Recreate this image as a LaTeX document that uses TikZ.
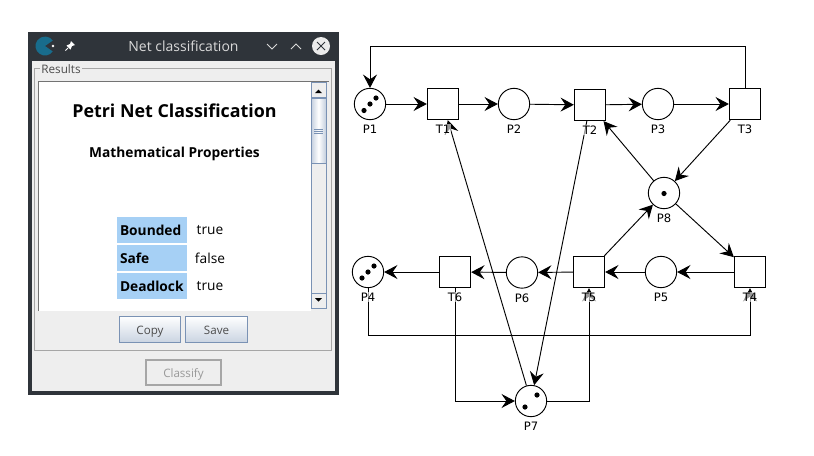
\documentclass[tikz,border=0pt]{standalone}
\usepackage{fontspec}
\setmainfont{Open Sans}
\newfontfamily\boldfam{Open Sans Bold}
\newfontfamily\netfont{DejaVu Sans}
\usetikzlibrary{arrows.meta,positioning}
\definecolor{framedark}{RGB}{47,52,58}
\definecolor{panelgray}{RGB}{238,238,238}
\definecolor{cellblue}{RGB}{166,208,245}
\definecolor{edgeblue}{RGB}{122,146,180}
\definecolor{iconblue}{RGB}{24,108,140}
\newcommand{\token}[3]{\fill ([shift={(#2,#3)}]#1) circle (2.6);}
\tikzset{
    x=0.75pt, y=-0.75pt,
    place/.style={draw, circle, inner sep=0pt, minimum size=23.5pt, line width=0.7pt},
    trans/.style={draw, rectangle, inner sep=0pt, minimum size=23.5pt, line width=0.7pt},
    arc/.style={-{Stealth[length=10pt, width=10.5pt, inset=3.6pt]}, line width=0.7pt},
    tag/.style={font=\netfont\fontsize{8.7}{10}\selectfont, inner sep=0.4pt, fill=white, fill opacity=0.6, text opacity=1},
    head/.style={font=\boldfam\fontsize{#1}{#1}\selectfont},
    cell/.style={fill=cellblue, minimum width=52.5pt, minimum height=19.5pt, inner sep=2.2pt, text width=48pt,
        font=\boldfam\fontsize{10.3}{11}\selectfont},
    val/.style={font=\fontsize{10.3}{11}\selectfont},
    btn/.style={draw=edgeblue, line width=0.7pt, top color=white, bottom color=edgeblue!40, minimum width=46pt,
        minimum height=20pt, inner sep=0pt, text height=7pt, text depth=0.2pt, text=black!70, font=\fontsize{8.7}{11}\selectfont},
    btnoff/.style={draw=black!35, line width=1.5pt, fill=panelgray, minimum width=56pt, minimum height=19pt,
        inner sep=0pt, text height=7pt, text depth=0.2pt, text=black!40, font=\fontsize{8.7}{11}\selectfont},
    sbtn/.style={draw=edgeblue, line width=0.5pt, fill=panelgray}
}
\begin{document}
\begin{tikzpicture}
    \useasboundingbox (0,0) rectangle (814,455);

    % window
    \fill[framedark] (28,32) rectangle (339,395);
    \fill[panelgray] (32,61) rectangle (335,391);
    \fill[iconblue] (45,46) ++(35:9.5) arc (35:325:9.5) -- (45,46) -- cycle;
    \fill[white] (53,46) circle (1.4);
    \fill[white] (71,41) -- (75,45) -- (72,46) -- (70.5,49.5) -- (66.5,45.5) -- (70,44) -- cycle;
    \draw[white, line width=0.7pt] (68,48) -- (65.5,50.5);
    \node[text=white!85!black, font=\fontsize{10.5}{11}\selectfont] (title) at (183.5,46) {Net classification};
    \draw[white!85!black, line width=0.6pt] (267,44) -- (272,49) -- (277,44) (291,49) -- (296,44) -- (301,49);
    \fill[white!92!black] (321,46) circle (9);
    \draw[framedark, line width=0.7pt] (317,42) -- (325,50) (325,42) -- (317,50);

    % results panel
    \draw[black!35, line width=0.6pt] (34.5,68.5) rectangle (331.5,350);
    \node[fill=panelgray, inner sep=1pt, text=black!70, font=\fontsize{8.8}{10}\selectfont] (results) at (61,69) {Results};
    \fill[white] (39,82) rectangle (311,311);
    \fill[panelgray] (311,82) rectangle (329,311);
    \draw[black!55, line width=0.8pt] (38.5,311) -- (38.5,81.5) -- (329,81.5);
    \draw[edgeblue, line width=0.5pt] (311,82) -- (311,308);
    \draw[edgeblue, line width=0.5pt] (326,82) -- (326,308);

    % scroll bar
    \path[sbtn] (311,82) rectangle (326,97.5);
    \fill[black] (315,93) -- (322,93) -- (318.5,89.5) -- cycle;
    \path[sbtn] (311,293) rectangle (326,308);
    \fill[black] (315,298) -- (322,298) -- (318.5,301.5) -- cycle;
    \shade[left color=edgeblue!45, right color=edgeblue!45, middle color=white, draw=edgeblue, line width=0.6pt]
        (311,98) rectangle (326,163);
    \draw[edgeblue, line width=0.5pt] (314,129) -- (323,129) (314,131) -- (323,131) (314,133) -- (323,133);

    \node[head=13.4] (heading) at (174.5,110.5) {Petri Net Classification};
    \node[head=10.3] (subheading) at (174.5,154) {Mathematical Properties};

    \node[cell] (bounded) at (152,230) {Bounded};
    \node[cell] (safe) at (152,258) {Safe};
    \node[cell] (deadlock) at (152,286) {Deadlock};
    \node[val] (boundedval) at (210,230) {true};
    \node[val] (safeval) at (210,258) {false};
    \node[val] (deadlockval) at (210,286) {true};

    \node[btn] (copy) at (150,329.5) {Copy};
    \node[btn] (save) at (216.5,329.5) {Save};
    \node[btnoff] (classify) at (183.5,372.5) {Classify};

    % net
    \node[place] (P1) at (370,104) {};
    \node[trans] (T1) at (443,104) {};
    \node[place] (P2) at (514,104) {};
    \node[trans] (T2) at (590,105) {};
    \node[place] (P3) at (658,104) {};
    \node[trans] (T3) at (745,104) {};
    \node[place] (P8) at (664,193) {};
    \node[trans] (T4) at (750,272) {};
    \node[place] (P5) at (661,272) {};
    \node[trans] (T5) at (589,272) {};
    \node[place] (P6) at (522,272.5) {};
    \node[trans] (T6) at (455,272) {};
    \node[place] (P4) at (368,272) {};
    \node[place] (P7) at (531,401) {};
    \coordinate (topturn) at (370,46);
    \coordinate (lowturn) at (750,335);

    \token{P1}{-6}{6.5} \token{P1}{0}{0} \token{P1}{6}{-6}
    \token{P4}{-6}{6} \token{P4}{0}{0} \token{P4}{6}{-6}
    \token{P7}{6}{-6} \token{P7}{-6}{6}
    \token{P8}{0}{0.5}

    \draw[arc] (P1) -- (T1);
    \draw[arc] (T1) -- (P2);
    \draw[arc] (P2) -- (T2);
    \draw[arc] (T2) -- (P3);
    \draw[arc] (P3) -- (T3);
    \draw[arc] (T3) |- (topturn) -- (P1);
    \draw[arc] (T3) -- (P8);
    \draw[arc] (P8) -- (T2);
    \draw[arc] (P8) -- (T4);
    \draw[arc] (T5) -- (P8);
    \draw[arc] (T4) -- (P5);
    \draw[arc] (P5) -- (T5);
    \draw[arc] (T5) -- (P6);
    \draw[arc] (P6) -- (T6);
    \draw[arc] (T6) -- (P4);
    \draw[arc] (P4) |- (lowturn) -- (T4);
    \draw[arc] (T6) |- (P7);
    \draw[arc] (P7) -| (T5);
    \draw[arc] (P7) -- (T1);
    \draw[arc] (T2) -- (P7);

    % labels go over the connectors
    \foreach \name in {P1,T1,P2,T2,P3,T3,P4,T4,P5,T5,P6,T6,P7,P8}
        \node[tag, below=3pt of \name] (\name-tag) {\name};
\end{tikzpicture}
\end{document}
